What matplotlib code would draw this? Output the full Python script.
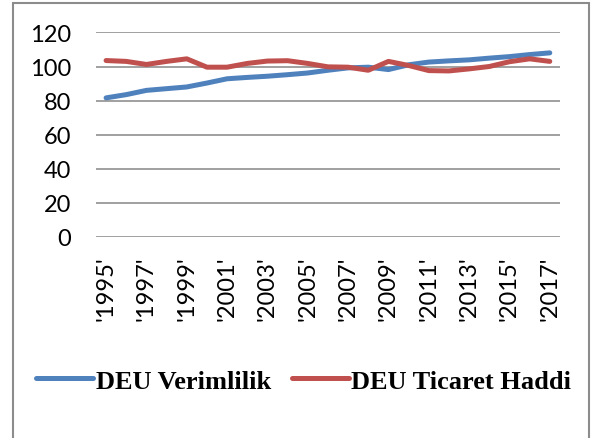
import matplotlib.pyplot as plt
from matplotlib.patches import Rectangle

years = [str(y) for y in range(1995, 2018)]
verimlilik = [81.6, 83.5, 86.0, 87.0, 88.0, 90.3, 92.8, 93.6, 94.3, 95.2, 96.2, 97.8,
              99.2, 99.6, 98.2, 101.0, 102.6, 103.3, 103.9, 104.9, 105.8, 107.0, 108.0]
ticaret = [103.5, 103.0, 101.2, 103.0, 104.5, 99.6, 99.6, 101.8, 103.2, 103.4, 101.8, 99.8,
           99.6, 97.8, 103.0, 100.6, 97.6, 97.4, 98.6, 100.0, 102.8, 104.5, 103.0]
tick_labels = ["'%s'" % y for y in years]

plt.rcParams['font.family'] = ['Lato', 'DejaVu Sans']

fig = plt.figure(figsize=(5.97, 4.39), dpi=100)
ax = fig.add_axes([0.1608, 0.4579, 0.777, 0.466])

x = list(range(len(years)))
ax.plot(x, verimlilik, color='#4F81BD', lw=3.6, solid_capstyle='round', label='DEU Verimlilik')
ax.plot(x, ticaret, color='#C0504D', lw=3.6, solid_capstyle='round', label='DEU Ticaret Haddi')

ax.set_ylim(0, 120)
ax.set_yticks(range(0, 121, 20))
ax.set_xlim(-0.5, len(years) - 0.5)
ax.set_xticks(x[::2])
ax.set_xticklabels(tick_labels[::2], rotation=90)
ax.tick_params(axis='y', length=0, pad=18, labelsize=17)
ax.tick_params(axis='x', length=0, pad=13, labelsize=17)
ax.grid(axis='y', color='#868686', lw=1.1)
ax.set_axisbelow(True)
for s in ax.spines.values():
    s.set_visible(False)

fig.legend(loc='center', bbox_to_anchor=(0.509, 0.13), ncol=2, frameon=False,
           prop={'family': 'Liberation Serif', 'weight': 'bold', 'size': 19},
           handlelength=2.15, handletextpad=0.1, columnspacing=0.8)

fig.patches.append(Rectangle((0.0218, -0.05), 0.9647, 0.041 + 1.0, transform=fig.transFigure,
                             fill=False, edgecolor='#8c8c8c', lw=1.5))

fig.savefig('out.png', dpi=100)
